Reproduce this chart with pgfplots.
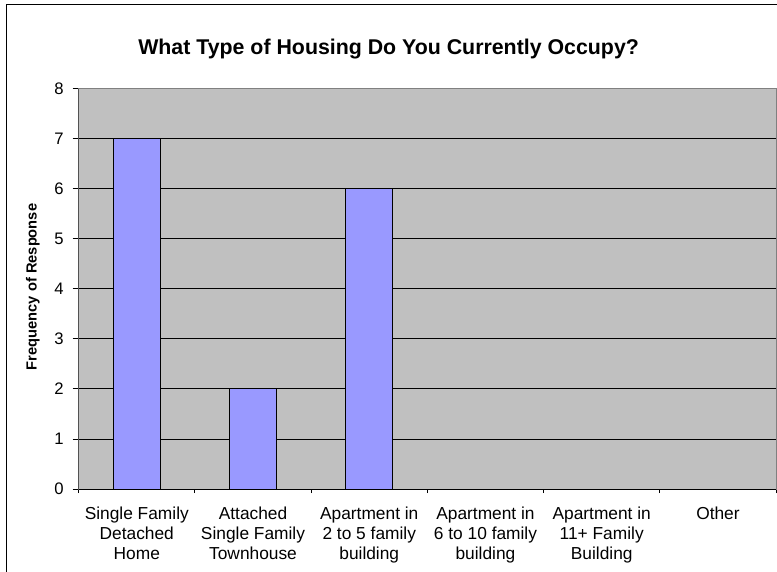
\documentclass[border=0pt]{standalone}
\usepackage{fontspec}
\setmainfont{Liberation Sans}
\usepackage{pgfplots}
\pgfplotsset{compat=1.18}
\definecolor{plotBg}{HTML}{C0C0C0}
\definecolor{barFill}{HTML}{9999FF}
\definecolor{frameGray}{HTML}{808080}

\begin{document}
\begin{tikzpicture}
\useasboundingbox (-59pt,-61.5pt) rectangle (523.7pt,366.75pt);
% outer chart frame (cropped on right and bottom)
\draw[black, line width=0.75pt] (-53.8pt,-62pt) -- (-53.8pt,363pt) -- (524pt,363pt);
\begin{axis}[
  at={(0,0)}, anchor=south west,
  scale only axis,
  width=523pt, height=300.2pt,
  xmin=-0.5, xmax=5.5,
  ymin=0, ymax=8,
  ytick={0,...,8},
  xtick={0,...,5},
  xticklabels={
    {Single Family\\Detached\\Home},
    {Attached\\Single Family\\Townhouse},
    {Apartment in\\2 to 5 family\\building},
    {Apartment in\\6 to 10 family\\building},
    {Apartment in\\11+ Family\\Building},
    {Other}},
  minor xtick={-0.5,0.5,...,5.5},
  xtick pos=bottom, ytick pos=left,
  tick align=outside,
  xtick style={draw=none},
  minor x tick style={draw=black, line width=0.75pt},
  minor tick length=3pt,
  ytick style={draw=black, line width=0.75pt},
  major tick length=4.5pt,
  ymajorgrids=true,
  grid style={draw=black, line width=0.75pt},
  axis background/.style={fill=plotBg},
  axis line style={draw=frameGray, line width=0.75pt},
  /pgf/number format/assume math mode=true,
  yticklabel style={font=\fontsize{12.5}{15}\selectfont, inner sep=0pt, anchor=east, xshift=-6.5pt},
  xticklabel style={font=\fontsize{13}{15}\selectfont, align=center, anchor=north, inner sep=0pt, yshift=-9pt},
  title={What Type of Housing Do You Currently Occupy?},
  title style={font=\bfseries\fontsize{16}{19}\selectfont, at={(axis description cs:0.4444,1.079)}, anchor=center, yshift=0pt},
  ylabel={Frequency of Response},
  every axis y label/.style={font=\bfseries\fontsize{11}{13}\selectfont, at={(axis description cs:-0.0656,0.505)}, rotate=90, anchor=center},
  ybar, bar width=35.25pt,
]
\addplot[fill=barFill, draw=black, line width=0.75pt]
  coordinates {(0,7) (1,2) (2,6) (3,0) (4,0) (5,0)};
\draw[frameGray, line width=0.75pt] (axis cs:-0.5,8) -- (axis cs:5.5,8) -- (axis cs:5.5,0);
\draw[black, line width=0.75pt] (axis cs:-0.5,8) -- (axis cs:-0.5,0) -- (axis cs:5.5,0);
\end{axis}
\end{tikzpicture}
\end{document}
